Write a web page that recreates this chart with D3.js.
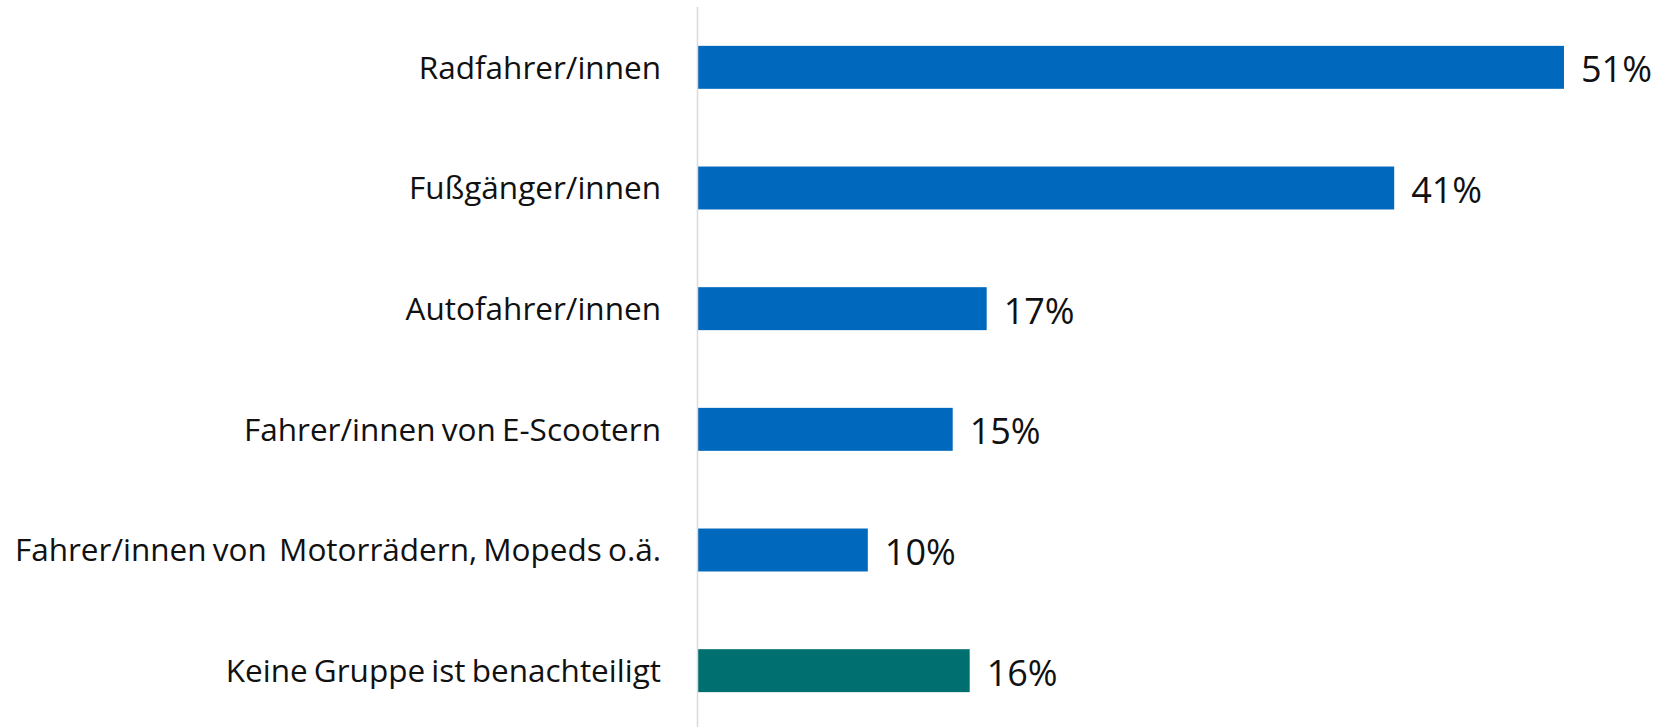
<!DOCTYPE html>
<html>
<head>
<meta charset="utf-8">
<script src="https://cdn.jsdelivr.net/npm/d3@7"></script>
<style>
  html, body { margin: 0; padding: 0; background: #fff; }
  svg { display: block; font-family: "Open Sans", sans-serif; }
</style>
</head>
<body>
<script>
// data
const categories = [
    "Radfahrer/innen",
    "Fußgänger/innen",
    "Autofahrer/innen",
    "Fahrer/innen von E-Scootern",
    "Fahrer/innen von\u00a0 Motorrädern, Mopeds o.ä.",
    "Keine Gruppe ist benachteiligt"
];
const values = [51, 41, 17, 15, 10, 16];
const barColors = ["#0068bd", "#0068bd", "#0068bd", "#0068bd", "#0068bd", "#006f6f"];

const width = 1675, height = 727;
const margin = { top: 7, right: 0, bottom: 0, left: 698 };

const svg = d3.select("body").append("svg")
    .attr("width", width)
    .attr("height", height);

const x = d3.scaleLinear()
    .domain([0, 51])
    .range([margin.left, 1564]);

const y = d3.scaleBand()
    .domain(categories)
    .range([margin.top, 731])
    .paddingInner(0.644)
    .paddingOuter(0.322);

// bars
svg.selectAll(".bar")
    .data(values)
    .enter()
    .append("rect")
    .attr("class", "bar")
    .attr("x", x(0))
    .attr("y", (d, i) => y(categories[i]))
    .attr("width", d => x(d) - x(0))
    .attr("height", y.bandwidth())
    .attr("fill", (d, i) => barColors[i]);

// vertical axis line
svg.append("line")
    .attr("x1", x(0) - 0.5)
    .attr("x2", x(0) - 0.5)
    .attr("y1", margin.top)
    .attr("y2", height)
    .attr("stroke", "#d9d9d9")
    .attr("stroke-width", 1.5);

// category labels
svg.selectAll(".cat-label")
    .data(categories)
    .enter()
    .append("text")
    .attr("class", "cat-label")
    .attr("x", 661)
    .attr("y", d => y(d) + y.bandwidth() / 2)
    .attr("dy", "0.36em")
    .attr("text-anchor", "end")
    .style("font-size", "31.5px")
    .style("word-spacing", "-2px")
    .style("fill", "#111")
    .text(d => d);

// value labels
svg.selectAll(".val-label")
    .data(values)
    .enter()
    .append("text")
    .attr("class", "val-label")
    .attr("x", d => x(d) + 17)
    .attr("y", (d, i) => y(categories[i]) + y.bandwidth() / 2 + 2)
    .attr("dy", "0.36em")
    .style("font-size", "36px")
    .style("fill", "#111")
    .text(d => d + "%");
</script>
</body>
</html>
